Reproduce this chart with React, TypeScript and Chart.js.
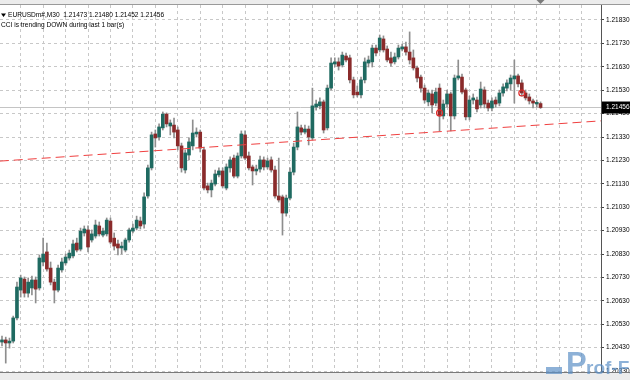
import React, { useEffect, useRef } from "react";
import { Chart, registerables } from "chart.js";

Chart.register(...registerables);

const SYMBOL_LINE = "EURUSDm#,M30  1.21473 1.21480 1.21452 1.21456";
const INDICATOR_LINE = "CCI is trending DOWN during last 1 bar(s)";

const OPEN = [
  1.20454, 1.20463, 1.2045, 1.20458, 1.20557, 1.20676, 1.20723, 1.20663, 1.20685, 1.20719,
  1.20685, 1.20796, 1.20839, 1.2077, 1.2071, 1.20676, 1.20762, 1.20792, 1.20813, 1.20822,
  1.20877, 1.20851, 1.2092, 1.20933, 1.2089, 1.20907, 1.2095, 1.20911, 1.20916, 1.20971,
  1.20898, 1.20873, 1.20856, 1.20847, 1.2089, 1.20928, 1.20941, 1.20971, 1.20958, 1.21078,
  1.21198, 1.21343, 1.2133, 1.21369, 1.21428, 1.21377, 1.21381, 1.2136, 1.21292, 1.21189,
  1.21253, 1.21292, 1.21343, 1.21351, 1.21275, 1.21121, 1.21104, 1.21129, 1.21168, 1.21185,
  1.21112, 1.21198, 1.2124, 1.21163, 1.21249, 1.21339, 1.21249, 1.21202, 1.21185, 1.21193,
  1.21232, 1.21202, 1.21232, 1.21189, 1.21078, 1.21074, 1.21005, 1.21069, 1.2118, 1.21287,
  1.21369, 1.21351, 1.21364, 1.21326, 1.21458, 1.21463, 1.2148, 1.21369, 1.21539, 1.21642,
  1.21651, 1.21638, 1.21676, 1.21668, 1.21574, 1.21522, 1.2151, 1.21574, 1.21646, 1.21651,
  1.2171, 1.21702, 1.21749, 1.21706, 1.21668, 1.21651, 1.21672, 1.21706, 1.21715, 1.21693,
  1.21668, 1.21625, 1.21586, 1.21539, 1.2148, 1.21514, 1.21475, 1.21539, 1.2142, 1.21471,
  1.21514, 1.2142, 1.21582, 1.21586, 1.21531, 1.21416, 1.21488, 1.21488, 1.21467, 1.21531,
  1.21475, 1.21454, 1.21488, 1.21475, 1.21518, 1.21539, 1.21557, 1.21578, 1.21591, 1.21561,
  1.21518, 1.21501, 1.21484, 1.21471, 1.21473,
];
const HIGH = [
  1.2048, 1.20475, 1.20471, 1.20565, 1.2071, 1.2074, 1.20732, 1.20728, 1.20736, 1.20732,
  1.20826, 1.20898, 1.20877, 1.20796, 1.20723, 1.20783, 1.20813, 1.2083, 1.20847, 1.2089,
  1.20898, 1.20941, 1.2095, 1.2095, 1.20933, 1.20975, 1.20967, 1.20941, 1.20984, 1.20984,
  1.2092, 1.2089, 1.20881, 1.20898, 1.20941, 1.20958, 1.20992, 1.20988, 1.21091, 1.2121,
  1.21351, 1.2136, 1.21386, 1.21437, 1.21433, 1.21403, 1.21411, 1.21373, 1.21304, 1.21275,
  1.21326, 1.21403, 1.21369, 1.2136, 1.21287, 1.21133, 1.21146, 1.21189, 1.21198, 1.21198,
  1.21215, 1.21245, 1.21253, 1.21262, 1.21356, 1.21356, 1.21266, 1.2121, 1.2121, 1.21249,
  1.21245, 1.2124, 1.21245, 1.21206, 1.2124, 1.21082, 1.21082, 1.21198, 1.21304, 1.21437,
  1.21381, 1.21381, 1.21377, 1.21539, 1.21488, 1.21497, 1.21488, 1.21552, 1.21668, 1.21668,
  1.21668, 1.21693, 1.21689, 1.2168, 1.21586, 1.21548, 1.21586, 1.21668, 1.21676, 1.21723,
  1.21723, 1.21766, 1.21762, 1.21719, 1.21693, 1.21689, 1.21723, 1.21727, 1.21736, 1.21779,
  1.21702, 1.21633, 1.21595, 1.21552, 1.21531, 1.21531, 1.21539, 1.21557, 1.21488, 1.21531,
  1.21522, 1.21595, 1.21659, 1.21599, 1.21539, 1.21505, 1.21514, 1.21501, 1.21565, 1.21544,
  1.21488, 1.21497, 1.21501, 1.21531, 1.21557, 1.21574, 1.21595, 1.21659, 1.21599, 1.21574,
  1.21531, 1.21514, 1.21492, 1.21488, 1.2148,
];
const LOW = [
  1.20437, 1.20364, 1.20428, 1.2045, 1.20548, 1.20646, 1.20646, 1.20646, 1.20655, 1.20621,
  1.20676, 1.20779, 1.20757, 1.20698, 1.20621, 1.20668, 1.20753, 1.20783, 1.20804, 1.20813,
  1.20839, 1.20843, 1.20907, 1.20839, 1.20881, 1.20898, 1.20907, 1.20903, 1.20907, 1.20873,
  1.20847, 1.20826, 1.2083, 1.20839, 1.20881, 1.2092, 1.20933, 1.20937, 1.20941, 1.21069,
  1.21189, 1.21287, 1.21317, 1.2136, 1.21373, 1.21339, 1.21326, 1.21275, 1.2118, 1.21176,
  1.21232, 1.21275, 1.2133, 1.21266, 1.21104, 1.21091, 1.21074, 1.21121, 1.21159, 1.21112,
  1.21104, 1.2118, 1.21155, 1.21155, 1.2124, 1.21232, 1.21189, 1.21125, 1.21168, 1.2118,
  1.21189, 1.21193, 1.2118, 1.21069, 1.21052, 1.20911, 1.20992, 1.21061, 1.21168, 1.21275,
  1.21339, 1.21343, 1.21296, 1.21317, 1.21445, 1.2145, 1.21347, 1.2136, 1.21531, 1.21629,
  1.21616, 1.21629, 1.21651, 1.21561, 1.21497, 1.21501, 1.21497, 1.21561, 1.21629, 1.21629,
  1.21676, 1.21693, 1.21693, 1.21651, 1.21633, 1.21642, 1.21663, 1.21698, 1.2168, 1.21642,
  1.21616, 1.21565, 1.21522, 1.21475, 1.21463, 1.21433, 1.21463, 1.21356, 1.21407, 1.21458,
  1.21356, 1.21407, 1.21574, 1.21514, 1.21403, 1.21403, 1.21471, 1.21437, 1.21454, 1.21454,
  1.21441, 1.21441, 1.21458, 1.21463, 1.21505, 1.21527, 1.21531, 1.21475, 1.21544, 1.21505,
  1.21488, 1.21471, 1.21454, 1.21458, 1.21452,
];
const CLOSE = [
  1.20463, 1.2045, 1.20458, 1.20557, 1.20689, 1.20728, 1.20663, 1.2071, 1.20719, 1.2068,
  1.20813, 1.2083, 1.20766, 1.2071, 1.20676, 1.2077, 1.20796, 1.20817, 1.20834, 1.20873,
  1.20847, 1.20928, 1.20937, 1.2086, 1.20916, 1.20954, 1.20916, 1.20928, 1.20975, 1.20881,
  1.20864, 1.20856, 1.20864, 1.2089, 1.20933, 1.20941, 1.20975, 1.2095, 1.21074, 1.21198,
  1.21339, 1.21326, 1.21373, 1.21428, 1.21386, 1.2139, 1.21351, 1.21292, 1.21198, 1.21262,
  1.21309, 1.21347, 1.21351, 1.21283, 1.21112, 1.21104, 1.21133, 1.21172, 1.21185, 1.21121,
  1.21202, 1.21232, 1.21163, 1.21249, 1.21343, 1.2124, 1.21198, 1.21185, 1.21193, 1.21232,
  1.21202, 1.21228, 1.21189, 1.21078, 1.21061, 1.21005, 1.21069, 1.2118, 1.21287, 1.21373,
  1.21351, 1.21364, 1.2133, 1.21463, 1.21471, 1.2148, 1.2136, 1.21539, 1.21646, 1.21651,
  1.21633, 1.2168, 1.21659, 1.21574, 1.2151, 1.2151, 1.21574, 1.21651, 1.21659, 1.2171,
  1.21689, 1.21753, 1.21702, 1.21659, 1.21646, 1.21672, 1.2171, 1.21715, 1.21693, 1.21659,
  1.21625, 1.21582, 1.21539, 1.21488, 1.21518, 1.21467, 1.21522, 1.2142, 1.21471, 1.21514,
  1.2142, 1.21582, 1.21591, 1.21522, 1.21416, 1.21488, 1.21497, 1.2145, 1.21535, 1.21471,
  1.21454, 1.21484, 1.21471, 1.21518, 1.21544, 1.21561, 1.21582, 1.21591, 1.21557, 1.21518,
  1.21497, 1.21484, 1.21475, 1.21478, 1.21456,
];

const LAST_PRICE = 1.21456;
const SIGNAL_BARS = [117, 139];
const SIGNAL_PRICES = [1.21433, 1.21518];
const TREND_X = [-0.6, 160.2];
const TREND_Y = [1.21227, 1.21399];

const Y_TICKS = [
  1.2033, 1.2043, 1.2053, 1.2063, 1.2073, 1.2083, 1.2093, 1.2103,
  1.2113, 1.2123, 1.2133, 1.2143, 1.2153, 1.2163, 1.2173, 1.2183,
];
const X_GRID = [5, 11, 17, 23, 29, 35, 41, 47, 53, 59, 65, 71, 77, 83, 89, 95, 101, 107, 113, 119, 125, 131, 137, 143, 149, 155];
const Y_MIN = 1.20326;
const Y_MAX = 1.21894;
const X_MIN = -0.535;
const X_MAX = 160.17;

const BULL = "#1f6a61";
const BEAR = "#8a2b2b";
const WICK = "#8e8e8e";
const FONT = "'Liberation Sans', Arial, sans-serif";

const decor = {
  id: "mt4decor",
  beforeDraw(chart: any) {
    const { ctx, width, height, chartArea: a } = chart;
    ctx.save();
    ctx.fillStyle = "#ffffff";
    ctx.fillRect(0, 0, width, height);
    ctx.fillStyle = "#ececec";
    ctx.fillRect(0, 0, width, a.top);
    ctx.fillRect(0, a.bottom, width, height - a.bottom);
    ctx.restore();
  },
  afterDraw(chart: any) {
    const { ctx, width, chartArea: a, scales } = chart;
    ctx.save();
    ctx.lineWidth = 1;
    ctx.strokeStyle = "#9a9a9a";
    ctx.beginPath();
    ctx.moveTo(0, a.top - 0.5);
    ctx.lineTo(width, a.top - 0.5);
    ctx.stroke();
    ctx.strokeStyle = "#7a7a7a";
    ctx.beginPath();
    ctx.moveTo(0, a.bottom + 0.5);
    ctx.lineTo(width, a.bottom + 0.5);
    ctx.stroke();

    // chart shift marker
    const sx = scales.x.getPixelForValue(OPEN.length - 1);
    ctx.fillStyle = "#7a7a7a";
    ctx.beginPath();
    ctx.moveTo(sx - 4, 0);
    ctx.lineTo(sx + 4, 0);
    ctx.lineTo(sx, 4);
    ctx.closePath();
    ctx.fill();

    // header
    ctx.fillStyle = "#000";
    ctx.beginPath();
    ctx.moveTo(1, 13.5);
    ctx.lineTo(6, 13.5);
    ctx.lineTo(3.5, 17);
    ctx.closePath();
    ctx.fill();
    ctx.font = `6.6px ${FONT}`;
    ctx.textBaseline = "middle";
    ctx.textAlign = "left";
    ctx.fillText(SYMBOL_LINE, 8, 15.5);
    ctx.fillText(INDICATOR_LINE, 1, 25);

    // last price label
    const py = scales.y.getPixelForValue(LAST_PRICE);
    ctx.fillStyle = "#000";
    ctx.fillRect(a.right + 1, py - 6, width - a.right - 1, 12);
    ctx.fillStyle = "#fff";
    ctx.font = `6.5px ${FONT}`;
    ctx.fillText(LAST_PRICE.toFixed(5), a.right + 5, py);

    // watermark
    ctx.globalAlpha = 0.7;
    ctx.fillStyle = "#5d90c6";
    ctx.fillRect(546, 367, 16, 7);
    ctx.font = `bold 31px ${FONT}`;
    ctx.textBaseline = "alphabetic";
    ctx.fillText("P", 566, 374);
    ctx.font = `bold 19px ${FONT}`;
    ctx.fillText("rof-FX", 586, 374);
    ctx.restore();
  },
};

export default function App() {
  const ref = useRef<HTMLCanvasElement>(null);
  useEffect(() => {
    document.body.style.margin = "0";
    const canvas = ref.current;
    if (!canvas) return;
    const idx = OPEN.map((_, i) => i);
    const chart = new Chart(canvas, {
      type: "bar",
      data: {
        datasets: [
          {
            type: "line",
            data: [
              { x: X_MIN - 1, y: LAST_PRICE },
              { x: X_MAX + 1, y: LAST_PRICE },
            ],
            borderColor: "#c4c4c4",
            borderWidth: 1,
            pointRadius: 0,
            order: 5,
          } as any,
          {
            type: "bar",
            data: idx.map((i) => ({ x: i, y: [LOW[i], HIGH[i]] })),
            backgroundColor: WICK,
            barThickness: 1,
            grouped: false,
            borderWidth: 0,
            order: 4,
          } as any,
          {
            type: "bar",
            data: idx.map((i) => ({ x: i, y: [OPEN[i], CLOSE[i]] })),
            backgroundColor: idx.map((i) => (CLOSE[i] >= OPEN[i] ? BULL : BEAR)),
            barThickness: 3,
            minBarLength: 1,
            grouped: false,
            borderWidth: 0,
            order: 3,
          } as any,
          {
            type: "line",
            data: TREND_X.map((x, k) => ({ x, y: TREND_Y[k] })),
            borderColor: "#f04040",
            borderWidth: 1,
            borderDash: [9, 5],
            pointRadius: 0,
            order: 2,
          } as any,
          {
            type: "line",
            data: SIGNAL_BARS.map((b, k) => ({ x: b, y: SIGNAL_PRICES[k] })),
            showLine: false,
            pointRadius: 3,
            pointBorderWidth: 1.2,
            pointBorderColor: "#e02a2a",
            pointBackgroundColor: "rgba(0,0,0,0)",
            order: 1,
          } as any,
        ],
      },
      options: {
        animation: false,
        responsive: false,
        devicePixelRatio: 1,
        events: [],
        layout: { autoPadding: false, padding: { top: 5, bottom: 8, left: 0, right: 0 } },
        plugins: { legend: { display: false }, tooltip: { enabled: false } },
        scales: {
          x: {
            type: "linear",
            min: X_MIN,
            max: X_MAX,
            offset: false,
            afterBuildTicks: (s: any) => {
              s.ticks = X_GRID.map((v) => ({ value: v }));
            },
            afterFit: (s: any) => {
              s.height = 0;
              s.paddingLeft = 0;
              s.paddingRight = 0;
            },
            grid: { color: "#c8c8c8", drawTicks: false, offset: false },
            border: { display: false, dash: [3, 3] },
            ticks: { display: false },
          },
          y: {
            type: "linear",
            position: "right",
            min: Y_MIN,
            max: Y_MAX,
            afterBuildTicks: (s: any) => {
              s.ticks = Y_TICKS.map((v) => ({ value: v }));
            },
            afterFit: (s: any) => {
              s.width = 29;
              s.paddingTop = 0;
              s.paddingBottom = 0;
            },
            grid: {
              color: "#c8c8c8",
              drawTicks: true,
              tickLength: 3,
              tickColor: "#444",
              tickBorderDash: [],
            },
            border: { display: true, color: "#555", width: 1, dash: [3, 3] },
            ticks: {
              autoSkip: false,
              padding: 2,
              color: "#000",
              font: { family: FONT, size: 6.5 },
              callback: (v: any) => Number(v).toFixed(5),
            },
          },
        },
      } as any,
      plugins: [decor],
    });
    return () => chart.destroy();
  }, []);
  return (
    <div style={{ position: "fixed", left: 0, top: 0, width: 630, height: 380 }}>
      <canvas ref={ref} width={630} height={380} style={{ display: "block", width: 630, height: 380 }} />
    </div>
  );
}
